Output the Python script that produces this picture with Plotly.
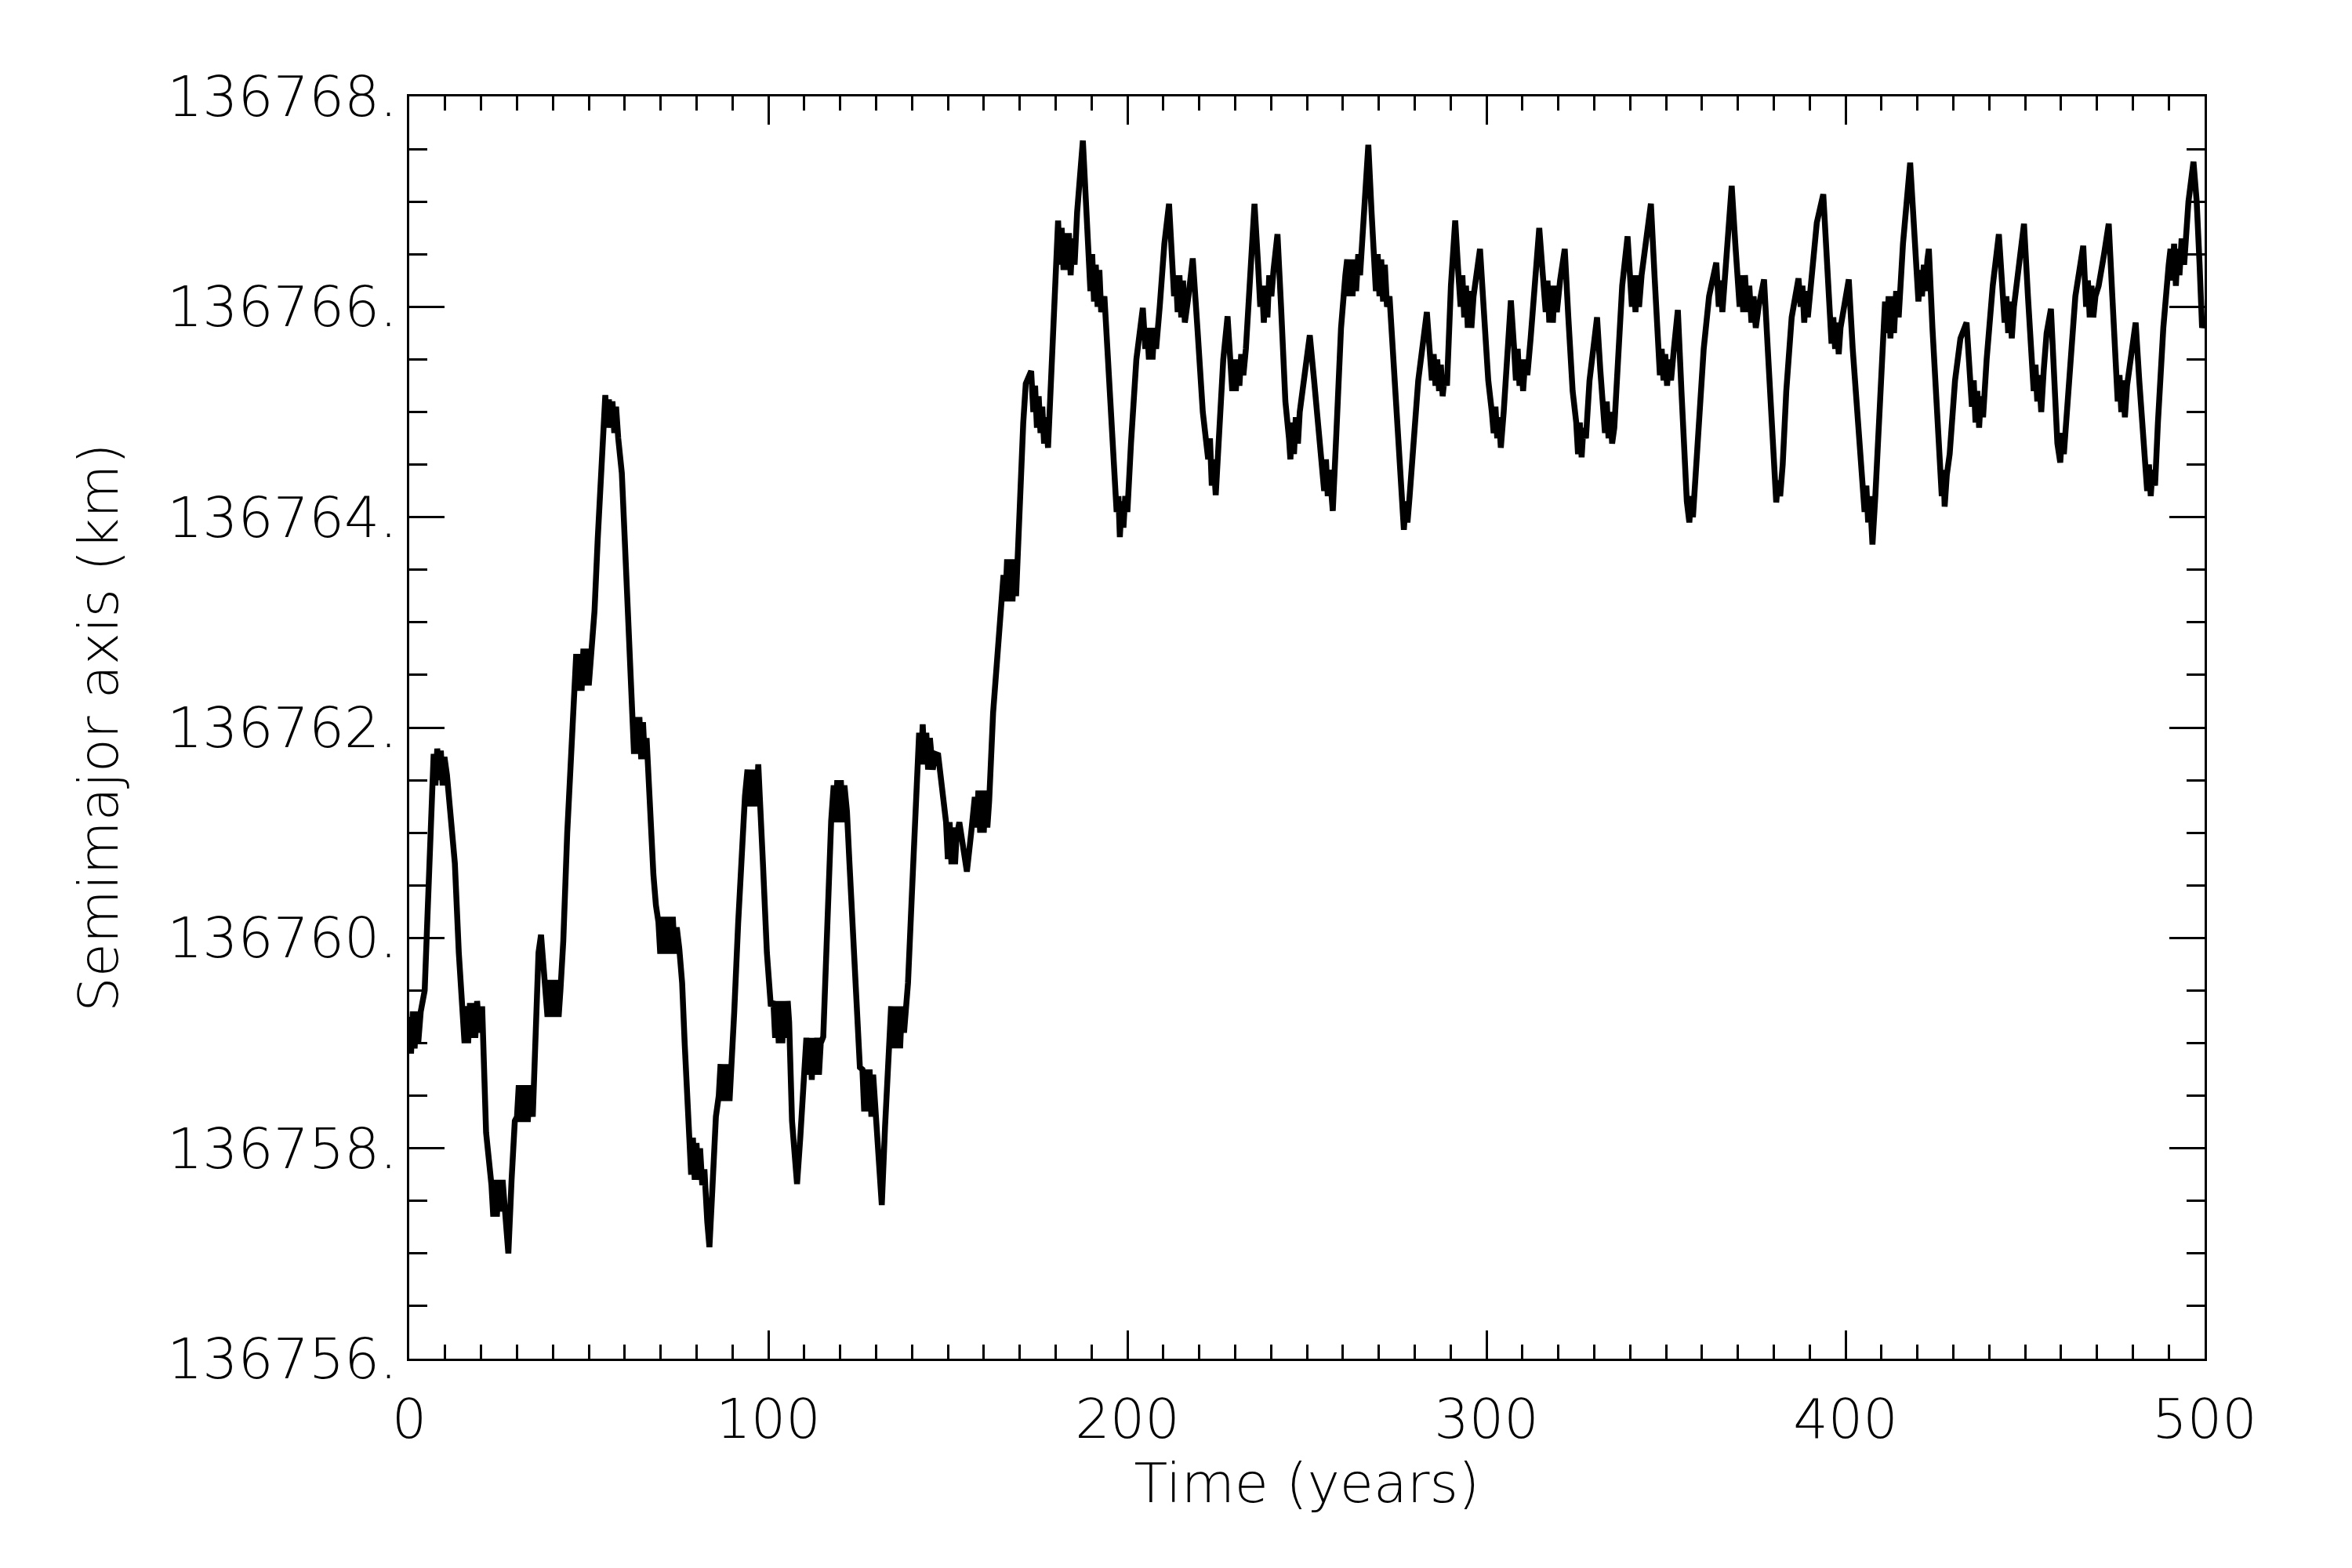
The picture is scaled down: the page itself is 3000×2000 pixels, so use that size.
import plotly.graph_objects as go

# (year, semimajor axis km), by segment
seg_000_050 = [
    (0.0, 136759.25), (0.5, 136758.9), (1.0, 136759.3), (1.5, 136758.95), (2.0, 136759.3), (2.5, 136759.0),
    (3.2, 136759.3), (4.3, 136759.5), (5.0, 136760.14), (6.1, 136761.28), (6.8, 136761.75), (7.3, 136761.45),
    (7.8, 136761.8), (8.3, 136761.5), (8.8, 136761.78), (9.3, 136761.45), (9.8, 136761.72), (10.5, 136761.55),
    (11.6, 136761.17), (12.7, 136760.71), (13.8, 136759.86), (14.9, 136759.29), (15.4, 136759.0), (15.9, 136759.35),
    (16.4, 136759.0), (16.9, 136759.38), (17.4, 136759.05), (17.9, 136759.38), (18.4, 136759.05), (18.9, 136759.4),
    (19.5, 136759.1), (20.3, 136759.35), (21.4, 136758.15), (22.9, 136757.65), (23.4, 136757.35), (23.9, 136757.7),
    (24.4, 136757.35), (24.9, 136757.7), (25.4, 136757.4), (26.0, 136757.7), (26.6, 136757.4), (27.6, 136757.0),
    (28.5, 136757.7), (29.4, 136758.26), (30.0, 136758.3), (30.5, 136758.6), (31.0, 136758.25), (31.5, 136758.6),
    (32.0, 136758.25), (32.5, 136758.6), (33.0, 136758.25), (33.6, 136758.6), (34.4, 136758.3), (35.2, 136759.0),
    (36.0, 136759.86), (36.7, 136760.03), (37.8, 136759.63), (38.5, 136759.25), (39.0, 136759.6), (39.5, 136759.25),
    (40.0, 136759.6), (40.5, 136759.25), (41.0, 136759.6), (41.6, 136759.25), (42.1, 136759.5), (42.9, 136759.97),
    (44.0, 136761.0), (45.1, 136761.86), (46.0, 136762.3), (46.5, 136762.7), (47.0, 136762.35), (47.5, 136762.7),
    (48.0, 136762.35), (48.5, 136762.75), (49.0, 136762.4), (49.5, 136762.75), (50.0, 136762.4),
]
seg_050_100 = [
    (50.7, 136762.7), (51.6, 136763.11), (52.5, 136763.8), (53.4, 136764.42), (54.1, 136765.0), (54.6, 136765.16),
    (55.1, 136764.85), (55.6, 136765.12), (56.1, 136764.85), (56.6, 136765.1), (57.1, 136764.8), (57.6, 136765.05),
    (58.2, 136764.75), (59.2, 136764.42), (60.0, 136763.8), (60.7, 136763.28), (61.4, 136762.7), (62.1, 136762.14),
    (62.6, 136761.75), (63.1, 136762.1), (63.6, 136761.75), (64.1, 136762.1), (64.6, 136761.7), (65.1, 136762.05),
    (65.6, 136761.7), (66.1, 136761.9), (67.2, 136761.0), (68.0, 136760.6), (68.7, 136760.31), (69.4, 136760.15),
    (69.9, 136759.85), (70.4, 136760.2), (70.9, 136759.85), (71.4, 136760.2), (71.9, 136759.85), (72.4, 136760.2),
    (72.9, 136759.85), (73.4, 136760.2), (73.9, 136759.85), (74.5, 136760.1), (75.2, 136759.9), (76.0, 136759.57),
    (76.7, 136759.0), (77.4, 136758.32), (78.0, 136758.1), (78.5, 136757.75), (79.0, 136758.1), (79.5, 136757.7),
    (80.0, 136758.05), (80.5, 136757.7), (81.0, 136758.0), (81.6, 136757.65), (82.2, 136757.8), (83.0, 136757.3),
    (83.6, 136757.06), (84.4, 136757.6), (85.4, 136758.3), (86.2, 136758.5), (86.7, 136758.8), (87.2, 136758.45),
    (87.7, 136758.8), (88.2, 136758.45), (88.7, 136758.8), (89.2, 136758.45), (89.8, 136758.75), (90.5, 136759.29),
    (91.6, 136760.14), (92.7, 136761.0), (93.5, 136761.35), (94.2, 136761.6), (94.7, 136761.25), (95.2, 136761.6),
    (95.7, 136761.25), (96.2, 136761.6), (96.7, 136761.25), (97.2, 136761.65), (97.8, 136761.3), (98.5, 136760.71),
    (99.6, 136759.86),
]
seg_100_150 = [
    (100.7, 136759.35), (101.4, 136759.4), (101.9, 136759.05), (102.4, 136759.4), (102.9, 136759.0), (103.4, 136759.4),
    (103.9, 136759.0), (104.4, 136759.4), (104.9, 136759.05), (105.4, 136759.4), (105.8, 136759.2), (106.6, 136758.26),
    (107.3, 136757.85), (108.0, 136757.66), (108.9, 136758.1), (109.8, 136758.72), (110.6, 136759.05), (111.1, 136758.7),
    (111.6, 136759.05), (112.1, 136758.65), (112.6, 136759.05), (113.1, 136758.7), (113.6, 136759.05), (114.1, 136758.7),
    (114.6, 136759.0), (115.3, 136759.06), (116.4, 136760.14), (117.5, 136761.11), (118.2, 136761.45), (118.7, 136761.1),
    (119.2, 136761.5), (119.7, 136761.1), (120.2, 136761.5), (120.7, 136761.1), (121.2, 136761.45), (121.9, 136761.2),
    (122.6, 136760.71), (124.1, 136759.57), (125.5, 136758.77), (126.2, 136758.75), (126.7, 136758.35), (127.2, 136758.75),
    (127.7, 136758.35), (128.2, 136758.75), (128.7, 136758.3), (129.2, 136758.7), (129.9, 136758.3), (130.7, 136757.8),
    (131.6, 136757.46), (132.5, 136758.2), (133.5, 136759.0), (134.2, 136759.35), (134.7, 136758.95), (135.2, 136759.35),
    (135.7, 136758.95), (136.2, 136759.35), (136.7, 136758.95), (137.2, 136759.35), (137.8, 136759.1), (138.9, 136759.57),
    (140.0, 136760.43), (141.5, 136761.68), (142.0, 136761.95), (142.5, 136761.65), (143.0, 136762.03), (143.5, 136761.65),
    (144.0, 136761.95), (144.5, 136761.6), (145.0, 136761.9), (145.8, 136761.6), (146.5, 136761.75), (147.3, 136761.74),
    (148.8, 136761.34), (149.5, 136761.1),
]
seg_150_200 = [
    (150.0, 136760.75), (150.5, 136761.1), (151.0, 136760.7), (151.5, 136761.05), (152.0, 136760.7), (152.4, 136760.95),
    (153.2, 136761.1), (154.2, 136760.9), (155.3, 136760.63), (156.5, 136761.0), (157.5, 136761.34), (158.0, 136761.05),
    (158.5, 136761.4), (159.0, 136761.0), (159.5, 136761.4), (160.0, 136761.0), (160.5, 136761.4), (161.0, 136761.05),
    (161.5, 136761.3), (162.6, 136762.14), (164.1, 136762.82), (165.5, 136763.45), (166.0, 136763.2), (166.5, 136763.6),
    (167.0, 136763.2), (167.5, 136763.6), (168.0, 136763.2), (168.5, 136763.6), (169.0, 136763.25), (169.9, 136764.14),
    (171.0, 136764.9), (171.7, 136765.27), (173.2, 136765.39), (173.8, 136765.0), (174.3, 136765.25), (174.8, 136764.85),
    (175.3, 136765.15), (175.8, 136764.8), (176.3, 136765.05), (176.8, 136764.7), (177.3, 136764.95), (177.9, 136764.66),
    (179.3, 136765.8), (180.7, 136766.82), (181.2, 136766.4), (181.7, 136766.75), (182.2, 136766.35), (182.7, 136766.7),
    (183.2, 136766.35), (183.7, 136766.7), (184.2, 136766.3), (184.7, 136766.65), (185.3, 136766.4), (186.0, 136766.9),
    (187.6, 136767.58), (188.6, 136767.0), (189.2, 136766.5), (189.7, 136766.15), (190.2, 136766.5), (190.7, 136766.05),
    (191.2, 136766.4), (191.7, 136766.0), (192.2, 136766.35), (192.7, 136765.95), (193.6, 136766.1), (194.5, 136765.5),
    (196.0, 136764.6), (197.0, 136764.05), (197.5, 136764.2), (197.9, 136763.81), (198.4, 136764.15), (198.9, 136763.9),
    (199.4, 136764.2),
]
seg_200_250 = [
    (200.0, 136764.05), (201.0, 136764.7), (202.5, 136765.5), (204.3, 136765.99), (205.0, 136765.6), (205.5, 136765.8),
    (206.0, 136765.5), (206.5, 136765.8), (207.0, 136765.5), (207.5, 136765.8), (208.0, 136765.6), (209.0, 136766.0),
    (210.3, 136766.6), (211.6, 136766.98), (212.5, 136766.5), (213.0, 136766.1), (213.5, 136766.3), (214.0, 136765.95),
    (214.5, 136766.3), (215.0, 136765.9), (215.5, 136766.25), (216.0, 136765.85), (217.0, 136766.1), (218.2, 136766.46),
    (219.5, 136765.8), (221.0, 136765.0), (222.5, 136764.55), (223.0, 136764.75), (223.5, 136764.3), (224.0, 136764.55),
    (224.6, 136764.21), (225.5, 136764.7), (226.7, 136765.5), (227.9, 136765.91), (228.7, 136765.5), (229.2, 136765.2),
    (229.7, 136765.5), (230.2, 136765.2), (230.7, 136765.5), (231.2, 136765.25), (231.7, 136765.55), (232.3, 136765.35),
    (233.0, 136765.6), (234.2, 136766.3), (235.4, 136766.98), (236.4, 136766.4), (237.0, 136766.0), (237.5, 136766.2),
    (238.0, 136765.85), (238.5, 136766.2), (239.0, 136765.9), (239.5, 136766.3), (240.1, 136766.1), (240.7, 136766.35),
    (241.8, 136766.69), (242.8, 136766.0), (244.0, 136765.1), (245.0, 136764.75), (245.4, 136764.55), (245.9, 136764.9),
    (246.4, 136764.6), (246.9, 136764.95), (247.5, 136764.7), (248.0, 136765.0), (249.5, 136765.4),
]
seg_250_300 = [
    (250.8, 136765.73), (252.0, 136765.3), (253.5, 136764.7), (254.3, 136764.5), (254.8, 136764.25), (255.3, 136764.55),
    (255.8, 136764.2), (256.3, 136764.45), (256.8, 136764.1), (257.2, 136764.06), (258.2, 136764.8), (259.5, 136765.8),
    (260.7, 136766.3), (261.2, 136766.45), (261.7, 136766.1), (262.2, 136766.45), (262.7, 136766.1), (263.2, 136766.45),
    (263.7, 136766.15), (264.3, 136766.5), (264.8, 136766.3), (266.0, 136767.0), (267.1, 136767.54), (268.0, 136766.9),
    (268.7, 136766.5), (269.2, 136766.15), (269.7, 136766.5), (270.2, 136766.1), (270.7, 136766.45), (271.2, 136766.05),
    (271.7, 136766.4), (272.3, 136766.0), (273.0, 136766.1), (274.5, 136765.3), (276.0, 136764.4), (276.5, 136764.2),
    (277.0, 136763.88), (277.5, 136764.15), (278.0, 136763.95), (278.6, 136764.2), (279.5, 136764.6), (281.0, 136765.3),
    (283.4, 136765.95), (284.3, 136765.6), (284.8, 136765.3), (285.3, 136765.55), (285.8, 136765.25), (286.3, 136765.5),
    (286.8, 136765.2), (287.3, 136765.45), (287.8, 136765.15), (288.4, 136765.35), (289.0, 136765.25), (290.1, 136766.2),
    (291.3, 136766.82), (292.2, 136766.3), (292.8, 136766.0), (293.3, 136766.3), (293.8, 136765.9), (294.3, 136766.2),
    (294.8, 136765.8), (295.3, 136766.15), (295.8, 136765.8), (296.4, 136766.1), (297.2, 136766.3), (298.2, 136766.55),
    (299.2, 136766.0),
]
seg_300_350 = [
    (300.5, 136765.3), (301.5, 136765.0), (302.0, 136764.8), (302.5, 136765.05), (303.0, 136764.75), (303.5, 136764.95),
    (304.0, 136764.66), (304.8, 136765.0), (305.8, 136765.6), (306.8, 136766.06), (307.7, 136765.6), (308.2, 136765.3),
    (308.7, 136765.6), (309.2, 136765.25), (309.7, 136765.5), (310.2, 136765.2), (310.8, 136765.5), (311.4, 136765.35),
    (312.3, 136765.7), (313.5, 136766.3), (314.7, 136766.75), (315.7, 136766.3), (316.5, 136765.95), (317.0, 136766.25),
    (317.5, 136765.85), (318.0, 136766.2), (318.5, 136765.85), (319.0, 136766.2), (319.6, 136765.95), (320.5, 136766.25),
    (321.8, 136766.55), (322.8, 136765.9), (324.0, 136765.2), (325.0, 136764.9), (325.5, 136764.6), (326.0, 136764.9),
    (326.5, 136764.57), (327.0, 136764.85), (327.7, 136764.75), (328.7, 136765.3), (330.0, 136765.75), (330.8, 136765.9),
    (331.7, 136765.4), (332.5, 136765.1), (333.0, 136764.8), (333.5, 136765.1), (334.0, 136764.75), (334.5, 136765.0),
    (335.0, 136764.7), (335.6, 136764.85), (336.5, 136765.5), (337.8, 136766.2), (339.3, 136766.67), (340.0, 136766.2),
    (340.5, 136766.0), (341.0, 136766.3), (341.5, 136765.95), (342.0, 136766.3), (342.5, 136766.0), (343.2, 136766.3),
    (344.5, 136766.7), (345.8, 136766.98), (346.8, 136766.3), (347.7, 136765.6), (348.3, 136765.35), (348.8, 136765.6),
    (349.3, 136765.3), (349.8, 136765.55),
]
seg_350_400 = [
    (350.3, 136765.25), (350.8, 136765.5), (351.4, 136765.3), (352.2, 136765.6), (353.3, 136765.97), (354.3, 136765.2),
    (355.3, 136764.4), (355.8, 136764.15), (356.5, 136763.95), (357.0, 136764.2), (357.5, 136764.0), (358.0, 136764.3),
    (359.0, 136764.8), (360.5, 136765.6), (362.0, 136766.1), (364.0, 136766.42), (364.7, 136766.0), (365.2, 136766.25),
    (365.7, 136765.95), (366.2, 136766.2), (367.0, 136766.6), (368.3, 136767.15), (369.3, 136766.6), (370.0, 136766.2),
    (370.5, 136766.0), (371.0, 136766.3), (371.5, 136765.95), (372.0, 136766.3), (372.6, 136765.95), (373.2, 136766.2),
    (373.8, 136765.85), (374.4, 136766.1), (375.0, 136765.8), (375.8, 136766.0), (377.3, 136766.26), (378.5, 136765.5),
    (379.7, 136764.6), (380.2, 136764.35), (380.7, 136764.14), (381.2, 136764.35), (381.8, 136764.2), (382.5, 136764.5),
    (383.5, 136765.2), (385.0, 136765.9), (386.9, 136766.27), (387.5, 136766.0), (388.0, 136766.2), (388.5, 136765.85),
    (389.0, 136766.15), (389.5, 136765.9), (390.5, 136766.3), (392.0, 136766.8), (393.8, 136767.07), (394.8, 136766.5),
    (395.6, 136765.9), (396.1, 136765.65), (396.6, 136765.9), (397.1, 136765.6), (397.6, 136765.85), (398.1, 136765.55),
    (398.6, 136765.8), (399.5, 136766.0),
]
seg_400_450 = [
    (400.9, 136766.26), (402.0, 136765.6), (403.5, 136764.8), (404.8, 136764.3), (405.3, 136764.05), (405.8, 136764.3),
    (406.3, 136763.95), (406.8, 136764.2), (407.5, 136763.74), (408.3, 136764.2), (409.2, 136764.9), (410.2, 136765.6),
    (411.0, 136766.05), (411.5, 136765.75), (412.0, 136766.1), (412.5, 136765.7), (413.0, 136766.1), (413.5, 136765.75),
    (414.1, 136766.15), (414.8, 136765.9), (416.0, 136766.6), (418.0, 136767.37), (419.0, 136766.8), (419.8, 136766.3),
    (420.3, 136766.05), (420.8, 136766.35), (421.3, 136766.1), (421.8, 136766.4), (422.3, 136766.15), (422.8, 136766.45),
    (423.2, 136766.55), (424.2, 136765.8), (425.5, 136764.9), (426.3, 136764.45), (426.8, 136764.2), (427.3, 136764.45),
    (427.6, 136764.1), (428.2, 136764.4), (429.0, 136764.6), (430.5, 136765.3), (432.0, 136765.7), (433.7, 136765.85),
    (434.5, 136765.4), (435.2, 136765.05), (435.7, 136765.3), (436.2, 136764.9), (436.7, 136765.2), (437.2, 136764.85),
    (437.7, 136765.15), (438.3, 136764.95), (439.3, 136765.5), (441.0, 136766.2), (442.7, 136766.69), (443.7, 136766.2),
    (444.3, 136765.85), (444.8, 136766.1), (445.3, 136765.75), (445.8, 136766.05), (446.3, 136765.7), (446.9, 136766.0),
    (447.6, 136766.2), (448.5, 136766.5), (449.7, 136766.79),
]
seg_450_500 = [
    (450.8, 136766.1), (451.8, 136765.5), (452.4, 136765.2), (452.9, 136765.45), (453.4, 136765.1), (453.9, 136765.35),
    (454.5, 136765.0), (455.2, 136765.4), (456.0, 136765.75), (457.2, 136765.98), (458.0, 136765.3), (459.0, 136764.7),
    (459.8, 136764.52), (460.3, 136764.8), (460.8, 136764.6), (461.3, 136764.85), (462.3, 136765.4), (464.0, 136766.1),
    (466.2, 136766.58), (467.0, 136766.0), (467.5, 136766.25), (468.0, 136765.9), (468.5, 136766.2), (469.0, 136765.9),
    (469.6, 136766.1), (470.5, 136766.2), (472.0, 136766.5), (473.3, 136766.79), (474.3, 136766.1), (475.3, 136765.35),
    (475.8, 136765.1), (476.3, 136765.35), (476.8, 136765.0), (477.3, 136765.3), (477.8, 136764.95), (478.4, 136765.25),
    (479.3, 136765.5), (480.8, 136765.85), (481.8, 136765.3), (482.8, 136764.8), (483.5, 136764.5), (484.0, 136764.25),
    (484.5, 136764.5), (485.0, 136764.2), (485.5, 136764.45), (486.2, 136764.3), (487.0, 136764.9), (488.5, 136765.8),
    (490.0, 136766.4), (490.5, 136766.55), (491.0, 136766.25), (491.5, 136766.6), (492.0, 136766.2), (492.5, 136766.55),
    (493.0, 136766.3), (493.6, 136766.65), (494.3, 136766.4), (495.5, 136767.0), (496.9, 136767.38), (497.8, 136767.0),
    (498.6, 136766.4), (499.3, 136765.8), (500.0, 136765.9),
]

segments = [seg_000_050, seg_050_100, seg_100_150, seg_150_200, seg_200_250,
            seg_250_300, seg_300_350, seg_350_400, seg_400_450, seg_450_500]
years = [p[0] for s in segments for p in s]
semimajor_km = [p[1] for s in segments for p in s]

x_ticks = [0, 100, 200, 300, 400, 500]
y_ticks = [136756, 136758, 136760, 136762, 136764, 136766, 136768]
y_ticktext = [f"{v}." for v in y_ticks]

FONT = "DejaVu Sans"
TXT = dict(family=FONT, size=70, color="black", weight=200)
YTICK = dict(family=FONT, size=71, color="black", weight=200)

fig = go.Figure()
fig.add_trace(go.Scatter(x=years, y=semimajor_km, mode="lines",
                         line=dict(color="black", width=7.5), showlegend=False,
                         hoverinfo="skip"))

axis_common = dict(showline=True, linecolor="black", linewidth=3, mirror="allticks",
                   ticks="inside", tickcolor="black", tickwidth=3, showgrid=False,
                   zeroline=False)

fig.update_xaxes(range=[0, 500], tickvals=x_ticks, ticklen=36, tickfont=TXT,
                 minor=dict(dtick=10, ticks="inside", ticklen=18, tickcolor="black", tickwidth=3, showgrid=False),
                 ticklabelstandoff=14,
                 title=dict(text="Time (years)", font=TXT, standoff=12),
                 **axis_common)
fig.update_yaxes(range=[136756, 136768], tickvals=y_ticks, ticktext=y_ticktext, ticklen=45, tickfont=YTICK,
                 minor=dict(dtick=0.5, tick0=136756, ticks="inside", ticklen=23, tickcolor="black", tickwidth=3, showgrid=False),
                 ticklabelstandoff=-2,
                 title=dict(text="Semimajor axis (km)", font=TXT, standoff=40),
                 **axis_common)

fig.update_layout(width=3000, height=2000, paper_bgcolor="white", plot_bgcolor="white",
                  margin=dict(l=522, r=188, t=123, b=267, autoexpand=False))

fig.write_html("out.html")
